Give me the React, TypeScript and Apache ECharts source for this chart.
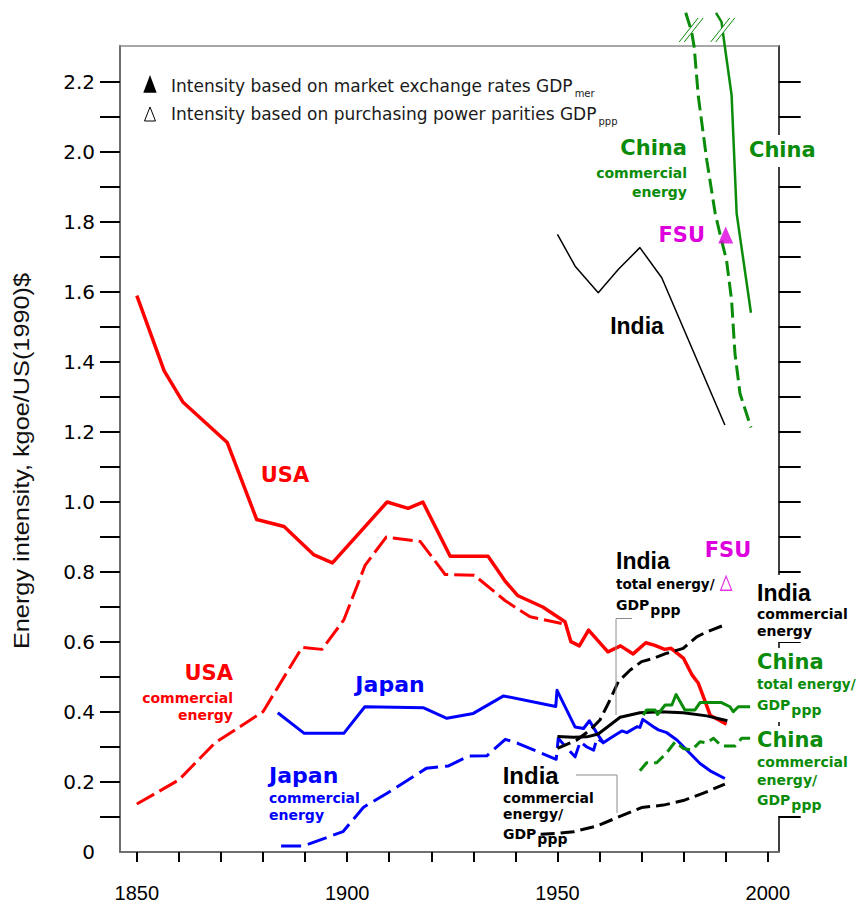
import React, { useEffect, useRef } from 'react';
import * as echarts from 'echarts';

// Axis ticks and labels
const X_TICKS = [1850, 1860, 1870, 1880, 1890, 1900, 1910, 1920, 1930, 1940, 1950, 1960, 1970, 1980, 1990, 2000];
const X_LABELS = [1850, 1900, 1950, 2000];
const Y_TICKS = [0.1, 0.2, 0.3, 0.4, 0.5, 0.6, 0.7, 0.8, 0.9, 1.0, 1.1, 1.2, 1.3, 1.4, 1.5, 1.6, 1.7, 1.8, 1.9, 2.0, 2.1, 2.2];
const Y_LABELS = [0, 0.2, 0.4, 0.6, 0.8, 1.0, 1.2, 1.4, 1.6, 1.8, 2.0, 2.2];

// Energy intensity, kgoe per 1990 US$: [year, value]
const USA_TOTAL = [
  [1850, 1.59], [1856.5, 1.375], [1861, 1.285], [1871.5, 1.17], [1878.5, 0.95], [1885, 0.93],
  [1892, 0.85], [1896.5, 0.826], [1909.5, 1.0], [1914.5, 0.982], [1918, 1.0], [1924.5, 0.845],
  [1933.5, 0.845], [1937.5, 0.775], [1940.5, 0.733], [1946.5, 0.7], [1951.8, 0.658], [1953.2, 0.601],
  [1955.2, 0.589], [1957.4, 0.634], [1962, 0.572], [1965, 0.589], [1968, 0.566], [1971, 0.598],
  [1973, 0.591], [1975.5, 0.579], [1977, 0.582], [1980, 0.553], [1982, 0.506], [1983.5, 0.482],
  [1985, 0.434], [1986.3, 0.391], [1990.2, 0.365],
];
const USA_COMMERCIAL = [
  [1850, 0.137], [1860, 0.206], [1868.5, 0.311], [1880, 0.401], [1889.3, 0.585], [1894, 0.579],
  [1899.2, 0.663], [1904.3, 0.82], [1909.3, 0.9], [1917.4, 0.887], [1923.3, 0.793], [1930.2, 0.791],
  [1937.6, 0.718], [1943.5, 0.672], [1951, 0.653],
];
const JAPAN_TOTAL = [
  [1883.5, 0.398], [1889.8, 0.339], [1899.2, 0.339], [1904.2, 0.415], [1918.2, 0.412], [1923.7, 0.382],
  [1930, 0.396], [1937.2, 0.446], [1949.6, 0.416], [1949.9, 0.462], [1954.2, 0.357], [1956.2, 0.353],
  [1957.6, 0.375], [1959.4, 0.339], [1960.9, 0.312], [1962.9, 0.328], [1965.3, 0.346], [1966.5, 0.341],
  [1968.9, 0.358], [1969.6, 0.356], [1970.3, 0.379], [1972.8, 0.358], [1974, 0.349], [1976, 0.341],
  [1978.4, 0.32], [1981.5, 0.282], [1983.9, 0.253], [1986.3, 0.232], [1989.8, 0.21],
];
const JAPAN_COMMERCIAL = [
  [1884.3, 0.017], [1889.5, 0.017], [1899, 0.058], [1903.9, 0.128], [1909.5, 0.168], [1918.8, 0.239],
  [1924.1, 0.246], [1928.9, 0.274], [1933.2, 0.275], [1937.6, 0.322], [1940.7, 0.31], [1949.7, 0.265],
  [1950.2, 0.325], [1952, 0.3], [1954.2, 0.272], [1955.4, 0.315], [1957, 0.3], [1958.6, 0.291],
  [1959.4, 0.325], [1961, 0.312],
];
const INDIA_MER = [
  [1950, 1.765], [1954.2, 1.674], [1959.7, 1.598], [1964.5, 1.665], [1969.6, 1.727], [1974.8, 1.641], [1989.8, 1.22],
];
const INDIA_TOTAL_PPP = [
  [1950, 0.296], [1954.6, 0.32], [1957.8, 0.349], [1960.1, 0.377], [1962.1, 0.425], [1964.5, 0.487],
  [1967.3, 0.52], [1970, 0.544], [1972.8, 0.553], [1976, 0.568], [1979.9, 0.582], [1983.1, 0.615],
  [1985.5, 0.629], [1989.8, 0.649],
];
const INDIA_COMMERCIAL = [
  [1950, 0.33], [1953.8, 0.328], [1957, 0.329], [1959.7, 0.337], [1964.9, 0.385], [1969.6, 0.398],
  [1974.4, 0.401], [1979.9, 0.398], [1985.5, 0.389], [1990.4, 0.375],
];
const INDIA_COMMERCIAL_PPP = [
  [1946, 0.051], [1950, 0.053], [1953.8, 0.058], [1959.4, 0.074], [1963.7, 0.096], [1970, 0.127],
  [1975.2, 0.134], [1979.9, 0.147], [1984.7, 0.168], [1989.8, 0.194],
];
const CHINA_TOTAL_PPP = [
  [1970.4, 0.391], [1971.2, 0.406], [1973.2, 0.406], [1973.8, 0.393], [1975.6, 0.42], [1977.2, 0.42],
  [1978.2, 0.45], [1980.3, 0.406], [1982.7, 0.406], [1983.9, 0.427], [1989, 0.427], [1991, 0.415],
  [1991.8, 0.401], [1993, 0.415], [1995.8, 0.415],
];
const CHINA_COMMERCIAL_PPP = [
  [1969.6, 0.232], [1971.2, 0.255], [1973.6, 0.255], [1976, 0.284], [1978, 0.315], [1979.9, 0.296],
  [1981.9, 0.291], [1983.9, 0.315], [1985.5, 0.312], [1987.1, 0.325], [1989, 0.303], [1992.2, 0.303],
  [1993.8, 0.325], [1995.8, 0.325],
];
const CHINA_MER = [
  [1987.7, 2.398], [1989, 2.372], [1989.8, 2.301], [1991.4, 2.163], [1992.6, 1.825], [1996, 1.541],
];
const CHINA_COMMERCIAL_MER = [
  [1980.5, 2.398], [1981.9, 2.344], [1982.5, 2.301], [1983.5, 2.158], [1985.5, 1.977], [1987.5, 1.825],
  [1988.6, 1.768], [1990.2, 1.691], [1991.4, 1.577], [1992.2, 1.425], [1993.4, 1.31], [1996, 1.213],
];
const FSU_MER = [[1990, 1.763]];
const FSU_PPP = [[1990.1, 0.768]];
// Axis-break marks where the China curves leave the frame
const CHINA_BREAKS = [[1981.8, 2.349], [1989.3, 2.349]];

const RED = '#ff0000';
const BLUE = '#0000ff';
const GREEN = '#0a8c0a';
const MAGENTA = '#dd00dd';
const BLACK = '#000000';
const FRAME = '#6e6e6e';
const SANS = '"Liberation Sans", Arial, sans-serif';
const WIDE = '"DejaVu Sans", Verdana, sans-serif';

function lineSeries(name: string, data: number[][], color: string, width: number, dash?: number[], clip = true) {
  return {
    name,
    type: 'line',
    data,
    symbol: 'none',
    showSymbol: false,
    clip,
    silent: true,
    z: 2,
    emphasis: { disabled: true },
    lineStyle: { color, width, type: dash || 'solid', cap: 'butt', join: 'round' },
  };
}

function txt(text: string, x: number, y: number, color: string, size: number, align = 'left', family = WIDE, weight = 'bold') {
  return {
    type: 'text',
    x,
    y,
    z: 20,
    silent: true,
    style: {
      text,
      fill: color,
      fontSize: size,
      fontFamily: family,
      fontWeight: weight,
      align,
      verticalAlign: 'middle',
      textAlign: align,
      textVerticalAlign: 'middle',
    },
  };
}

function gdpPpp(x: number, y: number, color: string) {
  const tok = { fontSize: 14, fontWeight: 'bold', fontFamily: WIDE, fill: color };
  return {
    type: 'text',
    x,
    y,
    z: 20,
    silent: true,
    style: {
      text: '{g|GDP}{p|ppp}',
      fill: color,
      fontSize: 14,
      fontWeight: 'bold',
      fontFamily: WIDE,
      align: 'left',
      verticalAlign: 'middle',
      textAlign: 'left',
      textVerticalAlign: 'middle',
      rich: {
        g: { ...tok, lineHeight: 24 },
        p: { ...tok, lineHeight: 12, verticalAlign: 'bottom', padding: [0, 0, 0, 1] },
      },
    },
  };
}

function legendText(main: string, sub: string, x: number, y: number) {
  return {
    type: 'text',
    x,
    y,
    z: 20,
    silent: true,
    style: {
      text: `{t|${main}}{s|${sub}}`,
      fill: '#1a1a1a',
      fontSize: 17,
      fontFamily: WIDE,
      align: 'left',
      verticalAlign: 'middle',
      textAlign: 'left',
      textVerticalAlign: 'middle',
      rich: {
        t: { fontSize: 17, fontFamily: WIDE, fill: '#1a1a1a', lineHeight: 24 },
        s: { fontSize: 10, fontFamily: WIDE, fill: '#1a1a1a', lineHeight: 10, verticalAlign: 'bottom', padding: [0, 0, 0, 2] },
      },
    },
  };
}

function cover(x: number, y: number, width: number, height: number) {
  return { type: 'rect', z: 15, silent: true, shape: { x, y, width, height }, style: { fill: '#ffffff' } };
}

function leader(points: number[][]) {
  return { type: 'polyline', z: 20, silent: true, shape: { points }, style: { stroke: '#8c8c8c', lineWidth: 1, fill: null } };
}

export default function App() {
  const ref = useRef<HTMLDivElement>(null);

  useEffect(() => {
    if (!ref.current) return;
    const chart = echarts.init(ref.current, undefined, { renderer: 'svg' });

    const xBase = { type: 'value', min: 1846, max: 2002.6, splitLine: { show: false } };
    const yBase = { type: 'value', min: 0, max: 2.304, splitLine: { show: false } };

    chart.setOption({
      animation: false,
      backgroundColor: '#ffffff',
      grid: { left: 120, right: 78.3, top: 45.7, bottom: 52, containLabel: false, outerBoundsMode: 'none' },
      xAxis: [
        {
          ...xBase,
          position: 'bottom',
          axisLine: { show: true, onZero: false, lineStyle: { color: FRAME, width: 2 } },
          axisTick: { show: true, inside: false, length: 10, customValues: X_TICKS, lineStyle: { color: BLACK, width: 2 } },
          axisLabel: {
            show: true,
            customValues: X_LABELS,
            margin: 31,
            fontSize: 20,
            fontFamily: SANS,
            color: BLACK,
            formatter: (v: number) => String(Math.round(v)),
          },
        },
        {
          ...xBase,
          position: 'top',
          axisLine: { show: true, onZero: false, lineStyle: { color: '#8a8a8a', width: 1.5 } },
          axisTick: { show: false },
          axisLabel: { show: false },
        },
      ],
      yAxis: [
        {
          ...yBase,
          position: 'left',
          axisLine: { show: true, onZero: false, lineStyle: { color: FRAME, width: 2 } },
          axisTick: { show: true, inside: false, length: 20, customValues: Y_TICKS, lineStyle: { color: BLACK, width: 2 } },
          axisLabel: {
            show: true,
            customValues: Y_LABELS,
            margin: 25,
            fontSize: 20,
            fontFamily: WIDE,
            color: BLACK,
            formatter: (v: number) => (v === 0 ? '0' : v.toFixed(1)),
          },
        },
        {
          ...yBase,
          position: 'right',
          axisLine: { show: true, onZero: false, lineStyle: { color: BLACK, width: 1.5 } },
          axisTick: { show: true, inside: false, length: 22, customValues: Y_TICKS, lineStyle: { color: BLACK, width: 2 } },
          axisLabel: { show: false },
        },
      ],
      series: [
        lineSeries('USA commercial energy', USA_COMMERCIAL, RED, 3, [20, 6]),
        lineSeries('USA', USA_TOTAL, RED, 3.5),
        lineSeries('Japan commercial energy', JAPAN_COMMERCIAL, BLUE, 3, [20, 7]),
        lineSeries('Japan', JAPAN_TOTAL, BLUE, 3),
        lineSeries('India', INDIA_MER, BLACK, 1.5),
        lineSeries('India total energy/GDPppp', INDIA_TOTAL_PPP, BLACK, 3, [14, 6]),
        lineSeries('India commercial energy', INDIA_COMMERCIAL, BLACK, 3),
        lineSeries('India commercial energy/GDPppp', INDIA_COMMERCIAL_PPP, BLACK, 3, [14, 6]),
        lineSeries('China total energy/GDPppp', CHINA_TOTAL_PPP, GREEN, 3),
        lineSeries('China commercial energy/GDPppp', CHINA_COMMERCIAL_PPP, GREEN, 3, [12, 6]),
        lineSeries('China', CHINA_MER, GREEN, 2.5, undefined, false),
        lineSeries('China commercial energy', CHINA_COMMERCIAL_MER, GREEN, 3, [15, 6], false),
        {
          name: 'axis break',
          type: 'custom',
          data: CHINA_BREAKS,
          clip: false,
          silent: true,
          z: 5,
          renderItem: (_params: any, api: any) => {
            const p = api.coord([api.value(0), api.value(1)]);
            const dx = 9.5;
            const dy = 12;
            const off = 2.5;
            const a1 = [p[0] - off - dx, p[1] + dy];
            const a2 = [p[0] - off + dx, p[1] - dy];
            const b1 = [p[0] + off - dx, p[1] + dy];
            const b2 = [p[0] + off + dx, p[1] - dy];
            return {
              type: 'group',
              children: [
                { type: 'polygon', shape: { points: [a1, a2, b2, b1] }, style: { fill: '#ffffff' } },
                { type: 'line', shape: { x1: a1[0], y1: a1[1], x2: a2[0], y2: a2[1] }, style: { stroke: GREEN, lineWidth: 1 } },
                { type: 'line', shape: { x1: b1[0], y1: b1[1], x2: b2[0], y2: b2[1] }, style: { stroke: GREEN, lineWidth: 1 } },
              ],
            };
          },
        },
        {
          name: 'FSU',
          type: 'scatter',
          data: FSU_MER,
          symbol: 'triangle',
          symbolSize: [15, 17],
          silent: true,
          z: 6,
          itemStyle: { color: MAGENTA },
        },
        {
          name: 'FSU ppp',
          type: 'scatter',
          data: FSU_PPP,
          symbol: 'triangle',
          symbolSize: [11, 14],
          silent: true,
          z: 6,
          itemStyle: { color: '#ffffff', borderColor: MAGENTA, borderWidth: 1.3 },
        },
      ],
      graphic: [
        // legend
        { type: 'polygon', z: 20, silent: true, shape: { points: [[143.3, 92.7], [156.7, 92.7], [150, 75]] }, style: { fill: BLACK } },
        { type: 'polygon', z: 20, silent: true, shape: { points: [[144.5, 121], [155.5, 121], [150, 107]] }, style: { fill: '#ffffff', stroke: BLACK, lineWidth: 1 } },
        legendText('Intensity based on market exchange rates GDP', 'mer', 171, 86),
        legendText('Intensity based on purchasing power parities GDP', 'ppp', 171, 114),

        // y-axis title
        {
          type: 'text',
          x: 22,
          y: 461,
          rotation: Math.PI / 2,
          scaleX: 1.15,
          z: 20,
          silent: true,
          style: {
            text: 'Energy intensity, kgoe/US(1990)$',
            fill: '#111111',
            fontSize: 22,
            fontFamily: SANS,
            align: 'center',
            verticalAlign: 'middle',
            textAlign: 'center',
            textVerticalAlign: 'middle',
          },
        },

        // label backgrounds that interrupt the right axis
        cover(746, 135, 76, 32),
        cover(755, 575, 102, 67),
        cover(755, 648, 102, 74),
        cover(755, 726, 102, 90),

        // upper labels
        txt('China', 749, 149.5, GREEN, 21),
        txt('China', 687, 147.5, GREEN, 21, 'right'),
        txt('commercial', 687, 172.5, GREEN, 14, 'right'),
        txt('energy', 687, 192, GREEN, 14, 'right'),
        txt('FSU', 705, 234.5, MAGENTA, 21, 'right'),
        txt('India', 637, 326, BLACK, 23, 'center', SANS),

        // USA
        txt('USA', 285, 474.5, RED, 21, 'center'),
        txt('USA', 233, 673, RED, 21, 'right'),
        txt('commercial', 233, 697.5, RED, 14, 'right'),
        txt('energy', 233, 715, RED, 14, 'right'),

        // Japan
        txt('Japan', 390, 684.5, BLUE, 22, 'center'),
        txt('Japan', 269, 775.5, BLUE, 22),
        txt('commercial', 269, 798, BLUE, 14),
        txt('energy', 269, 815, BLUE, 14),

        // India, lower left
        txt('India', 502.7, 775, BLACK, 24, 'left', SANS),
        txt('commercial', 503, 798, BLACK, 14),
        txt('energy/', 503, 814, BLACK, 14),
        gdpPpp(503, 834, BLACK),
        leader([[576, 775], [617, 775], [617, 813]]),

        // India total energy
        txt('India', 616, 560.5, BLACK, 23, 'left', SANS),
        txt('total energy/', 616, 584, BLACK, 13.5),
        gdpPpp(616, 605, BLACK),
        leader([[632, 618.5], [616, 618.5], [616, 715]]),

        // FSU (ppp)
        txt('FSU', 728, 550, MAGENTA, 21, 'center'),

        // right-hand labels
        txt('India', 757, 593, BLACK, 23, 'left', SANS),
        txt('commercial', 757, 614, BLACK, 14),
        txt('energy', 757, 630.5, BLACK, 14),
        txt('China', 757, 661.7, GREEN, 21),
        txt('total energy/', 757, 684, GREEN, 13.5),
        gdpPpp(757, 705, GREEN),
        txt('China', 757, 740, GREEN, 21),
        txt('commercial', 757, 762, GREEN, 14),
        txt('energy/', 757, 780, GREEN, 14),
        gdpPpp(757, 800, GREEN),
      ],
    });

    return () => chart.dispose();
  }, []);

  return (
    <div
      ref={ref}
      style={{ position: 'fixed', left: 0, top: 0, width: 857, height: 904, background: '#ffffff' }}
    />
  );
}
